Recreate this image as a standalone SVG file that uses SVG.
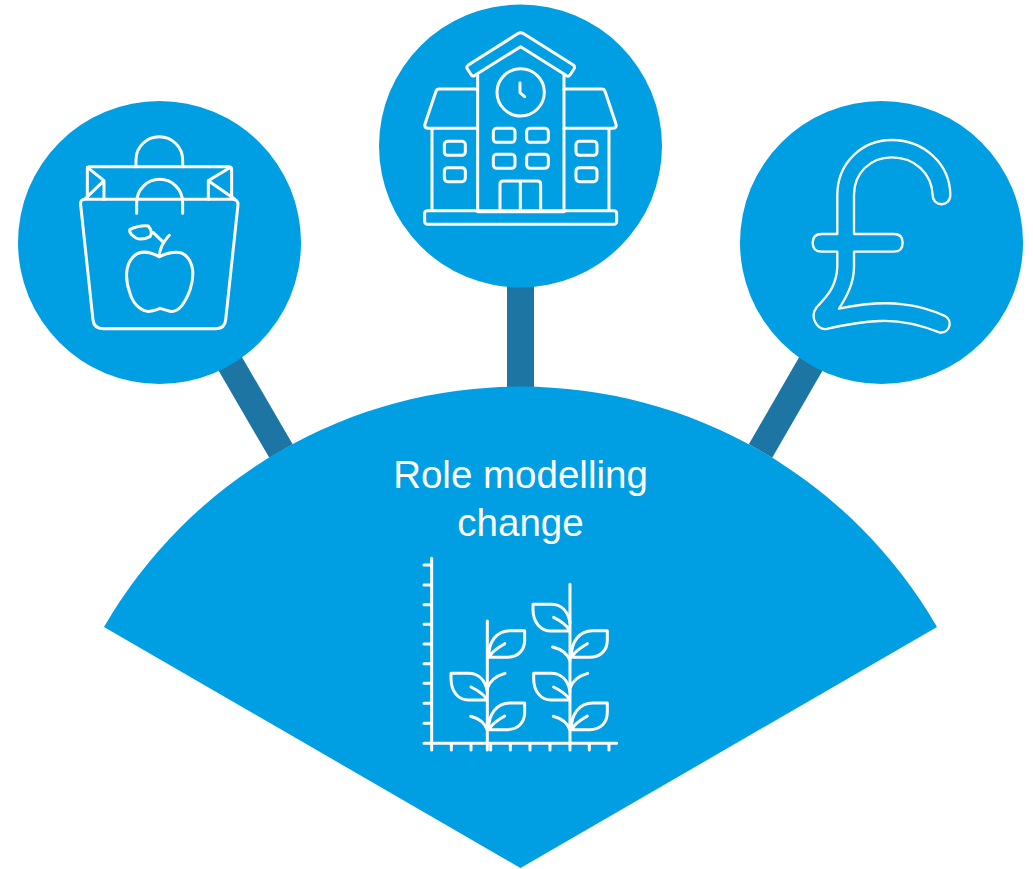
<svg xmlns="http://www.w3.org/2000/svg" width="1033" height="869" viewBox="0 0 1033 869">
<style>
.b{fill:#009fe3}
.c{stroke:#1c75a3;stroke-width:27;fill:none}
.i{fill:none;stroke:#fff;stroke-width:9;stroke-linecap:round;stroke-linejoin:round}
.p{fill:none;stroke:#fff;stroke-width:7;stroke-linecap:round;stroke-linejoin:round}
.t{font-family:"Liberation Sans",Arial,sans-serif;font-size:38.500px;fill:#fff;text-anchor:middle}
</style>
<rect width="1033" height="869" fill="#fff"/>
<g id="connectors">
<path class="c" d="M210 329L281 451"/>
<path class="c" d="M520.500 270V400"/>
<path class="c" d="M831 329L760.500 451"/>
</g>
<g id="hub">
<path class="b" d="M520.500 868L104 627A481 481 0 0 1 937 627Z"/>
<text class="t" x="520.500" y="488">Role modelling</text>
<text class="t" x="520.500" y="536">change</text>
<g class="i" transform="translate(410 545) scale(.3333)">
<path d="M65 40V615M42 595H620M42 60H65M42 120H65M42 179H65M42 238H65M42 297H65M42 356H65M42 415H65M42 475H65M42 535H65M124 595V615M183 595V615M242 595V615M301 595V615M360 595V615M420 595V615M538 595V615M597 595V615"/>
<path d="M232 228V615"/>
<path d="M480 118V615"/>
<g id="plant">
<path d="M236 335C236 290 260 257 300 257H344V285C344 315 325 337 290 337H236M240 332C250 315 270 305 284 296"/>
<path d="M228 465H175C145 465 123 440 123 400V385H175C205 385 226 405 232 440M183 426C205 437 222 450 230 462"/>
<path d="M232 430C240 405 260 392 285 385"/>
<path d="M236 552C236 507 260 474 300 474H344V502C344 532 325 554 290 554H236M240 549C250 532 270 522 284 513"/>
<path d="M182 514C205 520 225 535 232 555"/>
</g>
<use href="#plant" x="248"/>
<path d="M476 258H423C393 258 369 233 369 193V178H423C453 178 474 198 480 233M431 217C453 228 470 241 478 255"/>
<path d="M428 306C453 312 473 327 480 347"/>
</g>
</g>
<g id="shopping">
<circle class="b" cx="159.500" cy="242.500" r="141.500"/>
<g class="i" transform="translate(50 110) scale(.3333)">
<path d="M105 268H545Q565 268 564 285L527 630Q525 656 498 656H160Q132 656 129 630L92 285Q90 268 105 268Z"/>
<path d="M112 262V178Q112 170 120 170H535Q545 170 545 178V262"/>
<path d="M112 172L162 212V268M106 266L162 212M542 172L475 212V268M475 212L555 268"/>
<path d="M258 170V150A70 70 0 0 1 398 150V170M260 310V278A69 70 0 0 1 398 278V310"/>
<path d="M328 440C300 425 270 420 250 440C225 465 225 510 240 550C250 585 280 610 305 603Q320 600 330 595Q345 600 360 604C385 608 405 580 420 540C435 495 430 455 405 435C385 420 355 428 328 440Z"/>
<path d="M328 440C328 415 340 395 358 376M338 395L310 368M240 358Q270 345 295 348Q310 365 300 380Q275 392 258 384Q235 370 240 358Z"/>
</g>
</g>
<g id="school">
<circle class="b" cx="520.500" cy="146" r="141.500"/>
<g class="i" transform="translate(410 20) scale(.3333)">
<path d="M325 40Q332 36 339 40L490 135Q496 140 492 147L480 165Q475 172 468 166L332 80L195 166Q188 170 184 165L172 147Q168 140 175 135Z"/>
<path d="M203 165V575H462V165"/>
<circle cx="332" cy="217" r="71"/>
<path d="M330 188V218L344 230"/>
<path d="M200 207H88Q80 207 78 214L45 312Q42 325 55 325H200M462 207H575Q583 207 585 214L618 312Q621 325 608 325H462M66 325V570M597 325V570"/>
<rect x="44" y="572" width="576" height="41" rx="8"/>
<rect x="250" y="325" width="65" height="42" rx="10"/>
<rect x="350" y="325" width="65" height="42" rx="10"/>
<rect x="250" y="403" width="65" height="42" rx="10"/>
<rect x="350" y="403" width="65" height="42" rx="10"/>
<rect x="103" y="364" width="63" height="42" rx="10"/>
<rect x="103" y="443" width="63" height="42" rx="10"/>
<rect x="498" y="364" width="63" height="42" rx="10"/>
<rect x="498" y="443" width="63" height="42" rx="10"/>
<path d="M270 572V492Q270 483 280 483H382Q392 483 392 492V572M331 483V572"/>
</g>
</g>
<g id="pound">
<circle class="b" cx="881.500" cy="242.500" r="141.500"/>
<g class="p" transform="translate(790 120) scale(.3333)">
<path d="M428 225C425 160 375 112 305 112C240 112 192 160 192 225V342H312Q338 342 338 368Q338 395 312 395H192V440C192 490 170 530 147 566C200 555 280 545 340 553C390 558 430 572 465 588C488 600 482 640 450 638C400 618 340 600 270 603C210 605 160 615 110 627C80 630 58 590 80 562C110 530 140 500 142 440V395H95Q68 395 68 368Q68 342 95 342H142V225C142 130 215 60 305 60C400 60 480 130 481 225C481 262 428 262 428 225Z"/>
</g>
</g>
</svg>
